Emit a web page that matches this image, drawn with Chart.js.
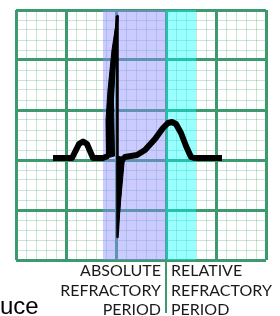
<!DOCTYPE html>
<html>
<head>
<meta charset="utf-8">
<script src="https://cdn.jsdelivr.net/npm/chart.js@4/dist/chart.umd.min.js"></script>
<style>
  html, body { margin: 0; padding: 0; background: #fff; }
  #wrap { position: relative; width: 280px; height: 316px; overflow: hidden; }
  #ecg { position: absolute; left: 0; top: 0; }
  .lbl { position: absolute; font-family: Lato, sans-serif; font-size: 16px; line-height: 19.5px; color: #1a1a1a; }
  #left { right: 119px; top: 260px; text-align: right; }
  #right { left: 171px; top: 260px; text-align: left; }
  #divider { position: absolute; left: 165px; top: 259px; width: 2px; height: 54px; background: #3d9a6e; }
  #cut { position: absolute; left: 0px; top: 292px; font-family: "Liberation Sans", Arial, sans-serif; font-size: 24px; color: #000; }
</style>
</head>
<body>
<div id="wrap">
  <canvas id="ecg" width="280" height="316"></canvas>
  <div id="divider"></div>
  <div class="lbl" id="left">ABSOLUTE<br>REFRACTORY<br>PERIOD</div>
  <div class="lbl" id="right">RELATIVE<br>REFRACTORY<br>PERIOD</div>
  <div id="cut">uce</div>
</div>
<script>
// grid units = small squares, 25 x 25
const gridMax = 25;

// ECG trace
const traceX = [3.7, 5.6, 6.0, 6.3, 6.7, 7.1, 7.4, 7.7, 8.7, 9.2, 10.12, 10.15, 10.6, 10.9, 12.1, 12.9, 13.9, 14.7, 15.2, 15.6, 16.0, 16.5, 17.0, 17.5, 17.8, 20.6];
const traceY = [10.2, 10.2, 11.0, 11.6, 11.85, 11.6, 10.9, 10.2, 10.2, 10.4, 24.4, 2.3, 10.0, 10.3, 10.5, 11.0, 12.1, 13.2, 13.7, 13.8, 13.6, 12.7, 11.4, 10.3, 10.2, 10.2];

// thick R upstroke and tapering S wave
const rWaveX = [10.12, 9.6, 9.2, 9.0, 9.05, 9.85, 9.75, 10.15];
const rWaveY = [24.4, 21.0, 17.0, 14.0, 10.2, 10.4, 16.0, 24.0];
const sWaveX = [10.15, 10.85, 10.13];
const sWaveY = [10.4, 10.2, 2.3];

// refractory periods
const absoluteBand = [8.7, 15];
const relativeBand = [15, 18];

function toPoints(xs, ys) {
    return xs.map((x, i) => ({ x: x, y: ys[i] }));
}

function band(range, color) {
    return {
        data: [{ x: range[0], y: gridMax }, { x: range[1], y: gridMax }],
        showLine: true,
        fill: "origin",
        backgroundColor: color,
        borderWidth: 0,
        pointRadius: 0,
        order: 5
    };
}

function shape(xs, ys) {
    return {
        data: toPoints(xs, ys),
        showLine: true,
        fill: "shape",
        backgroundColor: "#000",
        borderColor: "#000",
        borderWidth: 1,
        pointRadius: 0,
        order: 1
    };
}

const gridColor = ctx => ctx.index % 5 === 0 ? "#3d9a6e" : "rgba(90,175,125,0.32)";
const gridWidth = ctx => ctx.index % 5 === 0 ? 3 : 1;

const axis = {
    type: "linear",
    min: 0,
    max: gridMax,
    ticks: { display: false, stepSize: 1 },
    grid: { color: gridColor, lineWidth: gridWidth, drawTicks: false },
    border: { display: false }
};

// the QRS spike is drawn thin, the shapes above give it its width
const rIndex = traceX.indexOf(10.12);
const segWidth = ctx => {
    const i = ctx.p0DataIndex;
    if (i === rIndex - 1) return 3;
    if (i === rIndex || i === rIndex + 1) return 2.5;
    return undefined;
};

new Chart(document.getElementById("ecg"), {
    type: "scatter",
    data: {
        datasets: [
            band(absoluteBand, "rgba(140,140,255,0.45)"),
            band(relativeBand, "rgba(0,255,255,0.4)"),
            shape(rWaveX, rWaveY),
            shape(sWaveX, sWaveY),
            {
                data: toPoints(traceX, traceY),
                showLine: true,
                borderColor: "#000",
                borderWidth: 6,
                borderJoinStyle: "miter",
                borderCapStyle: "butt",
                pointRadius: 0,
                segment: { borderWidth: segWidth, borderJoinStyle: "round" },
                order: 0
            }
        ]
    },
    options: {
        responsive: false,
        animation: false,
        layout: { padding: { left: 16, top: 10, right: 14, bottom: 56 } },
        plugins: { legend: { display: false }, tooltip: { enabled: false } },
        scales: { x: axis, y: axis }
    }
});
</script>
</body>
</html>
